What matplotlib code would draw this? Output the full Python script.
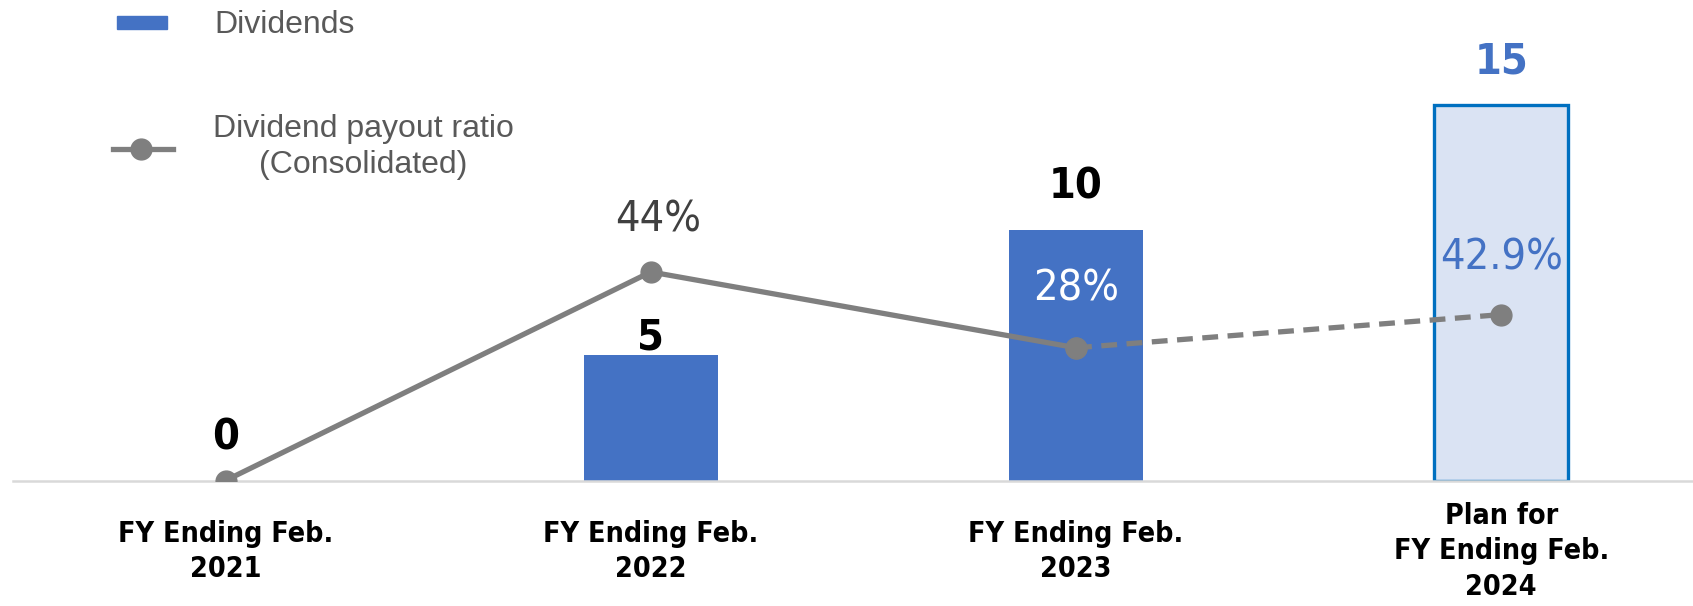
import numpy as np
import matplotlib
matplotlib.use("Agg")
import matplotlib.pyplot as plt
from matplotlib import font_manager
from matplotlib.patches import Rectangle
from matplotlib.lines import Line2D

categories = ["FY Ending Feb.\n2021", "FY Ending Feb.\n2022", "FY Ending Feb.\n2023",
              "Plan for\nFY Ending Feb.\n2024"]
dividends = [0, 5, 10, 15]
payout_ratio = [0, 44, 28, 35]      # plotted positions
ratio_labels = ["", "44%", "28%", "42.9%"]
ratio_colors = ["#404040", "#404040", "white", "#4472C4"]
value_colors = ["black", "black", "black", "#4472C4"]

names = {f.name for f in font_manager.fontManager.ttflist}
narrow = "Liberation Sans Narrow" if "Liberation Sans Narrow" in names else "DejaVu Sans"
stretch = "normal" if narrow != "DejaVu Sans" else "condensed"
regular = "Liberation Sans"

W, H = 1693, 606
fig = plt.figure(figsize=(W / 100, H / 100), dpi=100)
# axes: left at x=13px, baseline at y=480.5px from top
ax = fig.add_axes([13 / W, (H - 480.5) / H, 1 - 13 / W, 480.5 / H])
ax2 = ax.twinx()

x = np.arange(len(categories))
bar_w = 0.315
colors = ["#4472C4"] * 3 + ["#DAE3F3"]
bars = ax.bar(x, dividends, width=bar_w, color=colors, zorder=2)
bars[3].set_edgecolor("#0070C0")
bars[3].set_linewidth(2.4)

ax.set_xlim(-0.5, 3.451)
ax.set_ylim(0, 480.5 / 25.05)
ax2.set_ylim(0, 480.5 / 4.74)

# payout ratio line: solid for actuals, dashed for plan
ax2.plot(x[:3], payout_ratio[:3], color="#7F7F7F", lw=3.8, marker="o", ms=15,
         solid_capstyle="round", zorder=3)
ax2.plot(x[2:], payout_ratio[2:], color="#7F7F7F", lw=3.8, ls=(0, (3.0, 1.8)),
         marker="o", ms=15, zorder=3)

for s in ["top", "right", "left"]:
    ax.spines[s].set_visible(False)
    ax2.spines[s].set_visible(False)
ax2.spines["bottom"].set_visible(False)
ax.spines["bottom"].set_color("#D9D9D9")
ax.spines["bottom"].set_linewidth(1.8)
ax.set_yticks([])
ax2.set_yticks([])

ax.set_xticks(x)
ax.set_xticklabels(categories, fontfamily=narrow, fontstretch=stretch,
                   fontweight="bold", fontsize=20.5, linespacing=1.33)
for lbl in ax.get_xticklabels():
    lbl.set_va("center")
    lbl.set_multialignment("center")
ax.tick_params(axis="x", length=0, pad=51)

# dividend value labels
offsets = [16, -2, 16, 16]
for xi, v, c, off in zip(x, dividends, value_colors, offsets):
    ax.annotate(str(v), (xi, v), xytext=(0, off), textcoords="offset points",
                ha="center", va="bottom", fontsize=31, fontweight="bold",
                fontfamily=narrow, fontstretch=stretch, color=c, zorder=5)

# payout ratio labels
ratio_dx = [0, 5, 0, 0]
ratio_dy = [40, 38, 43, 41]
for xi, v, t, c, dx, dy in zip(x, payout_ratio, ratio_labels, ratio_colors,
                               ratio_dx, ratio_dy):
    if t:
        ax2.annotate(t, (xi, v), xytext=(dx, dy), textcoords="offset points",
                     ha="center", va="center", fontsize=31, fontfamily=narrow,
                     fontstretch=stretch, color=c, zorder=5)

# legend drawn by hand
fig.patches.append(Rectangle((117 / W, 1 - 29 / H), 50 / W, 13 / H,
                             transform=fig.transFigure, color="#4472C4"))
fig.text(214 / W, 1 - 25 / H, "Dividends", fontsize=23, fontfamily=regular,
         color="#595959", va="center", ha="left")
fig.lines.append(Line2D([113 / W, 173 / W], [1 - 149 / H, 1 - 149 / H],
                        transform=fig.transFigure, color="#7F7F7F", lw=3.8))
fig.lines.append(Line2D([141 / W], [1 - 149 / H], transform=fig.transFigure,
                        color="#7F7F7F", marker="o", ms=15, lw=0))
fig.text(363 / W, 1 - 147 / H, "Dividend payout ratio\n(Consolidated)", fontsize=23,
         fontfamily=regular, color="#595959", va="center", ha="center",
         linespacing=1.3)

fig.savefig("out.png", dpi=100)
